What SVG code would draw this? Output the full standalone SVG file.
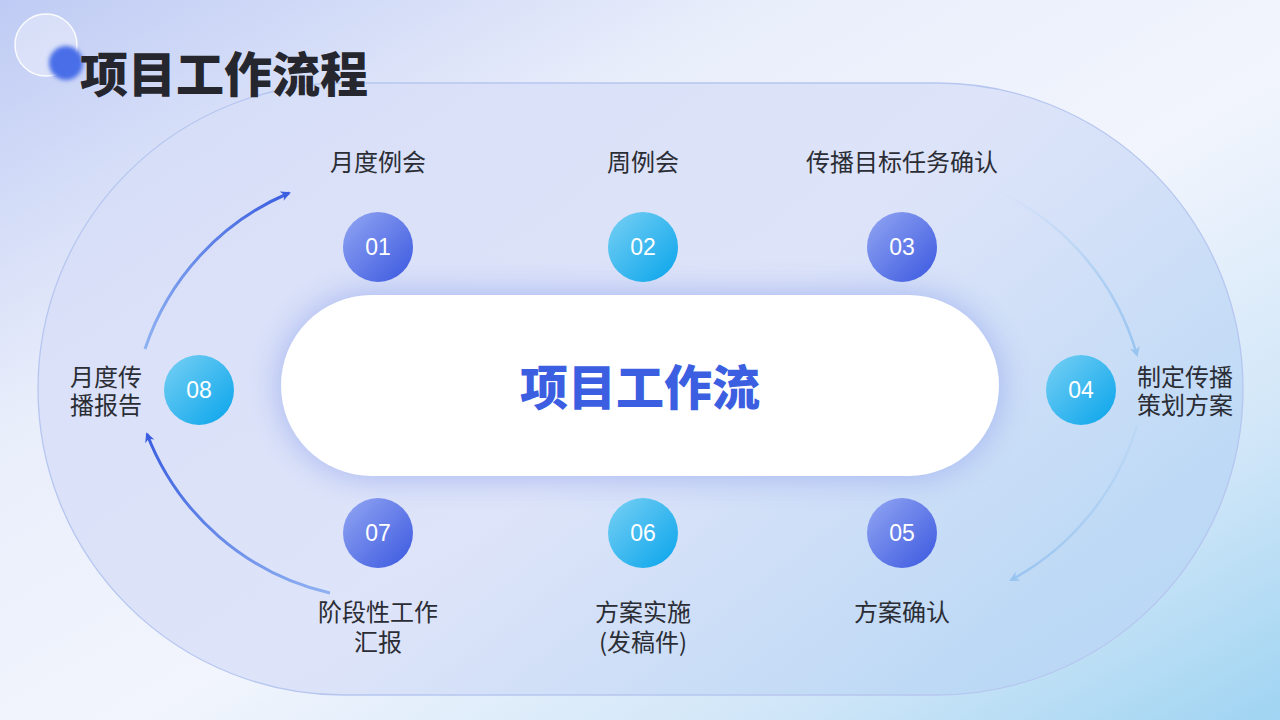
<svg xmlns="http://www.w3.org/2000/svg" width="1280" height="720" viewBox="0 0 1280 720">
<defs>
  <linearGradient id="bg" x1="0" y1="0" x2="1" y2="1">
    <stop offset="0" stop-color="#bfcbf4"/>
    <stop offset="0.3" stop-color="#e9eefb"/>
    <stop offset="0.55" stop-color="#f2f5fd"/>
    <stop offset="0.8" stop-color="#d0e6f8"/>
    <stop offset="1" stop-color="#9fd4f2"/>
  </linearGradient>
  <linearGradient id="ring" x1="0" y1="0" x2="1" y2="0.6">
    <stop offset="0" stop-color="#d6ddf7"/>
    <stop offset="0.6" stop-color="#dae1f8"/>
    <stop offset="1" stop-color="#bad7f5"/>
  </linearGradient>
  <linearGradient id="gBlue" x1="0" y1="0" x2="1" y2="1">
    <stop offset="0" stop-color="#93a6f3"/>
    <stop offset="1" stop-color="#3a58df"/>
  </linearGradient>
  <linearGradient id="gCyan" x1="0" y1="0" x2="1" y2="1">
    <stop offset="0" stop-color="#78d0f4"/>
    <stop offset="1" stop-color="#08a4eb"/>
  </linearGradient>
  <linearGradient id="aTL" x1="0" y1="1" x2="1" y2="0">
    <stop offset="0" stop-color="#8fb2f2"/>
    <stop offset="1" stop-color="#3b5ee0"/>
  </linearGradient>
  <linearGradient id="aBL" x1="1" y1="1" x2="0" y2="0">
    <stop offset="0" stop-color="#8fb2f2"/>
    <stop offset="1" stop-color="#3b5ee0"/>
  </linearGradient>
  <linearGradient id="aTR" x1="0" y1="0" x2="1" y2="1">
    <stop offset="0" stop-color="#a8cdf2" stop-opacity="0"/>
    <stop offset="1" stop-color="#98c4f0" stop-opacity="1"/>
  </linearGradient>
  <linearGradient id="aBR" x1="1" y1="0" x2="0" y2="1">
    <stop offset="0" stop-color="#a8cdf2" stop-opacity="0.3"/>
    <stop offset="1" stop-color="#98c4f0" stop-opacity="1"/>
  </linearGradient>
  <filter id="glow" x="-20%" y="-40%" width="140%" height="180%">
    <feGaussianBlur stdDeviation="17"/>
  </filter>
  <filter id="soft" x="-50%" y="-50%" width="200%" height="200%">
    <feGaussianBlur stdDeviation="2"/>
  </filter>
  <marker id="mDark" viewBox="0 0 10 10" refX="8" refY="5" markerWidth="10" markerHeight="10" markerUnits="userSpaceOnUse" orient="auto">
    <path d="M0,0 L10,5 L0,10 L3,5 Z" fill="#3b5ee0"/>
  </marker>
  <marker id="mLight" viewBox="0 0 10 10" refX="8" refY="5" markerWidth="10" markerHeight="10" markerUnits="userSpaceOnUse" orient="auto">
    <path d="M0,0 L10,5 L0,10 L3,5 Z" fill="#98c4f0"/>
  </marker>
  <style>
    .lbl { font-family: "Noto Sans CJK SC", "Noto Sans", sans-serif; font-size: 24px; fill: #2b2d35; }
    .num { font-family: "Liberation Sans", Arial, sans-serif; font-size: 23px; fill: #ffffff; text-anchor: middle; }
    .mid { text-anchor: middle; }
  </style>
</defs>

<rect x="0" y="0" width="1280" height="720" fill="url(#bg)"/>

<!-- decorative circles -->
<circle cx="46" cy="45" r="31" fill="#ffffff" fill-opacity="0.35" stroke="#ffffff" stroke-opacity="0.9" stroke-width="1.5"/>
<circle cx="66" cy="63" r="17" fill="#4a6ee8" filter="url(#soft)"/>

<!-- outer stadium -->
<rect x="38" y="83" width="1205" height="612" rx="306" ry="306" fill="url(#ring)" fill-opacity="0.85" stroke="#b6c6f0" stroke-width="1.3"/>

<!-- title -->
<text x="80" y="92" font-family="'Noto Sans CJK SC', sans-serif" font-size="48" font-weight="900" fill="#26272e">项目工作流程</text>

<!-- center node -->
<g id="center">
  <rect x="281" y="295" width="718" height="181" rx="90.5" ry="90.5" fill="#9eaff0" opacity="0.9" filter="url(#glow)"/>
  <rect x="281" y="295" width="718" height="181" rx="90.5" ry="90.5" fill="#ffffff"/>
  <text x="640" y="405" text-anchor="middle" font-family="'Noto Sans CJK SC', sans-serif" font-size="48" font-weight="900" fill="#3b5fe0">项目工作流</text>
</g>

<!-- connectors -->
<g id="connectors" fill="none">
  <path d="M145,349 A258,258 0 0 1 289,193" stroke="url(#aTL)" stroke-width="3" marker-end="url(#mDark)"/>
  <path d="M330,593 A258,258 0 0 1 147,434" stroke="url(#aBL)" stroke-width="3" marker-end="url(#mDark)"/>
  <path d="M1000,192 A260,260 0 0 1 1137,355" stroke="url(#aTR)" stroke-width="2.5" marker-end="url(#mLight)"/>
  <path d="M1137,425 A260,260 0 0 1 1011,580" stroke="url(#aBR)" stroke-width="2.5" marker-end="url(#mLight)"/>
</g>

<!-- nodes -->
<g id="node01">
  <circle cx="378" cy="247" r="35" fill="url(#gBlue)"/>
  <text class="num" x="378" y="255">01</text>
  <text class="lbl mid" x="378" y="171">月度例会</text>
</g>
<g id="node02">
  <circle cx="643" cy="247" r="35" fill="url(#gCyan)"/>
  <text class="num" x="643" y="255">02</text>
  <text class="lbl mid" x="643" y="171">周例会</text>
</g>
<g id="node03">
  <circle cx="902" cy="247" r="35" fill="url(#gBlue)"/>
  <text class="num" x="902" y="255">03</text>
  <text class="lbl mid" x="902" y="171">传播目标任务确认</text>
</g>
<g id="node04">
  <circle cx="1081" cy="390" r="35" fill="url(#gCyan)"/>
  <text class="num" x="1081" y="398">04</text>
  <text class="lbl" x="1137" y="386">制定传播</text>
  <text class="lbl" x="1137" y="414">策划方案</text>
</g>
<g id="node05">
  <circle cx="902" cy="533" r="35" fill="url(#gBlue)"/>
  <text class="num" x="902" y="541">05</text>
  <text class="lbl mid" x="902" y="621">方案确认</text>
</g>
<g id="node06">
  <circle cx="643" cy="533" r="35" fill="url(#gCyan)"/>
  <text class="num" x="643" y="541">06</text>
  <text class="lbl mid" x="643" y="621">方案实施</text>
  <text class="lbl mid" x="643" y="651">(发稿件)</text>
</g>
<g id="node07">
  <circle cx="378" cy="533" r="35" fill="url(#gBlue)"/>
  <text class="num" x="378" y="541">07</text>
  <text class="lbl mid" x="378" y="621">阶段性工作</text>
  <text class="lbl mid" x="378" y="651">汇报</text>
</g>
<g id="node08">
  <circle cx="199" cy="390" r="35" fill="url(#gCyan)"/>
  <text class="num" x="199" y="398">08</text>
  <text class="lbl" x="142" y="386" text-anchor="end">月度传</text>
  <text class="lbl" x="142" y="414" text-anchor="end">播报告</text>
</g>
</svg>
